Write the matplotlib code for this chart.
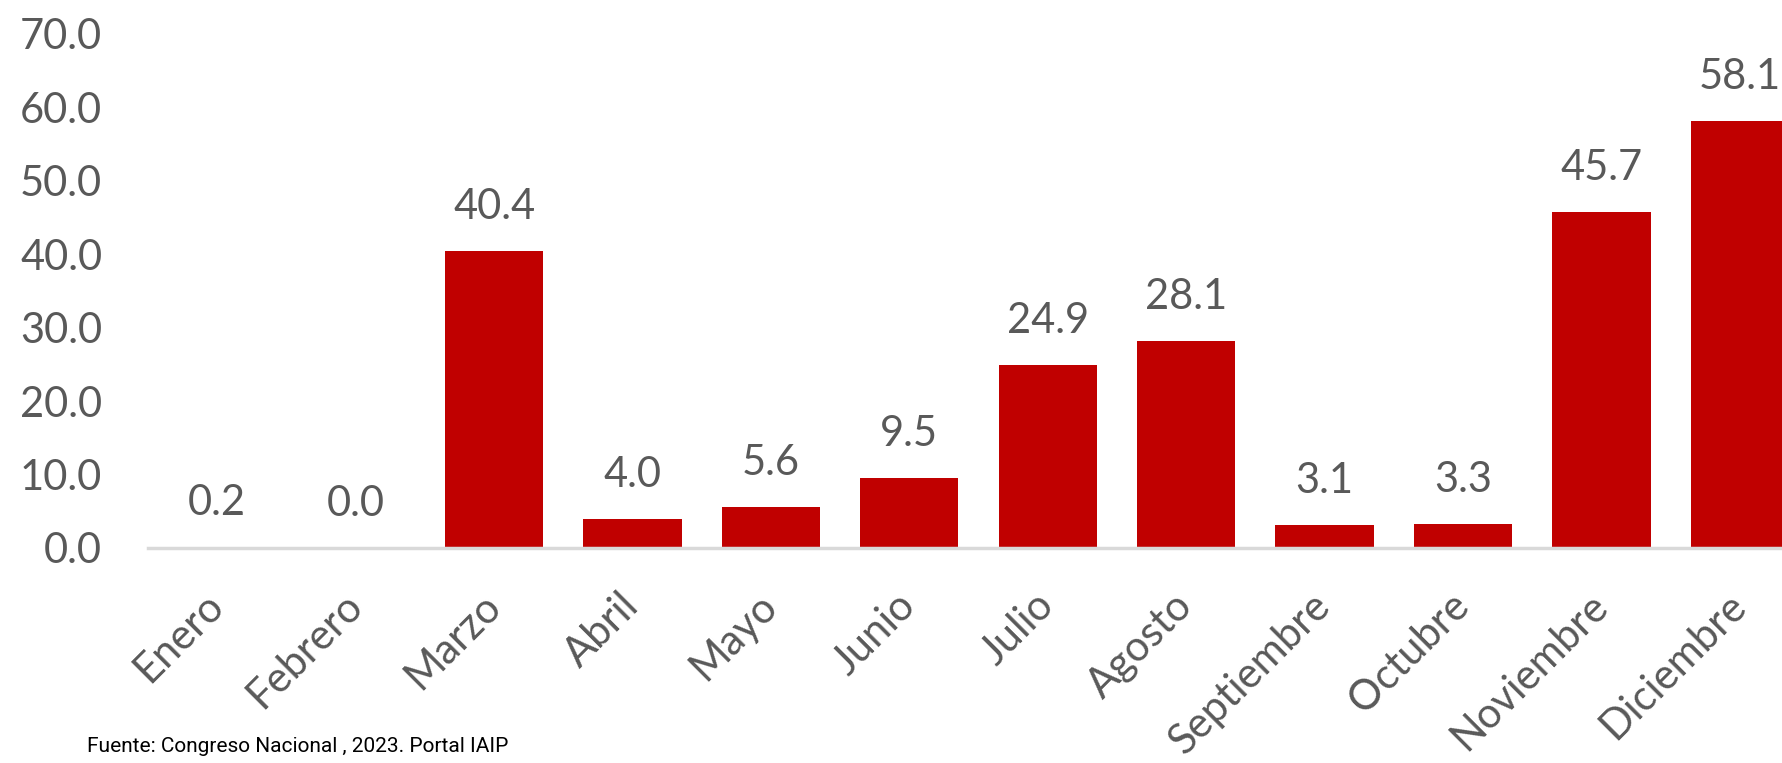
import matplotlib.pyplot as plt

# Datos del grafico
meses = ['Enero', 'Febrero', 'Marzo', 'Abril', 'Mayo', 'Junio', 'Julio',
         'Agosto', 'Septiembre', 'Octubre', 'Noviembre', 'Diciembre']
valores = [0.2, 0.0, 40.4, 4.0, 5.6, 9.5, 24.9, 28.1, 3.1, 3.3, 45.7, 58.1]
ticks_y = [0, 10, 20, 30, 40, 50, 60, 70]
fuente = 'Fuente: Congreso Nacional , 2023. Portal IAIP'

rojo = '#C00000'
gris_texto = '#595959'
gris_eje = '#D9D9D9'

plt.rcParams['font.family'] = ['Lato', 'DejaVu Sans']

fig = plt.figure(figsize=(17.83, 7.63), dpi=100)
# el grafico original esta recortado por la derecha
ax = fig.add_axes([0.083, 0.2818, 0.9316, 0.6742])

x = range(len(meses))
ax.bar(x, valores, width=0.71, color=rojo, zorder=2)

for xi, v in zip(x, valores):
    ax.annotate(f'{v:.1f}', (xi, v), xytext=(0, 18), textcoords='offset points',
                ha='center', va='bottom', fontsize=30, color=gris_texto)

ax.set_xlim(-0.5, 11.5)
ax.set_ylim(0, 70)
ax.set_yticks(ticks_y)
ax.set_yticklabels([f'{t:.1f}' for t in ticks_y])
ax.set_xticks(list(x))
ax.set_xticklabels(meses, rotation=45, ha='right', va='center',
                   rotation_mode='anchor')

ax.tick_params(axis='y', length=0, pad=33, labelsize=30, labelcolor=gris_texto)
ax.tick_params(axis='x', length=0, pad=37, labelsize=30, labelcolor=gris_texto)

for lado in ['top', 'right', 'left']:
    ax.spines[lado].set_visible(False)
ax.spines['bottom'].set_color(gris_eje)
ax.spines['bottom'].set_linewidth(2.5)
ax.spines['bottom'].set_zorder(3)

fig.text(87 / 1783, 1 - 747 / 763, fuente, ha='left', va='center',
         fontsize=15, color='black', family=['Roboto', 'DejaVu Sans'])

plt.savefig('out.png', dpi=100)
plt.close()
